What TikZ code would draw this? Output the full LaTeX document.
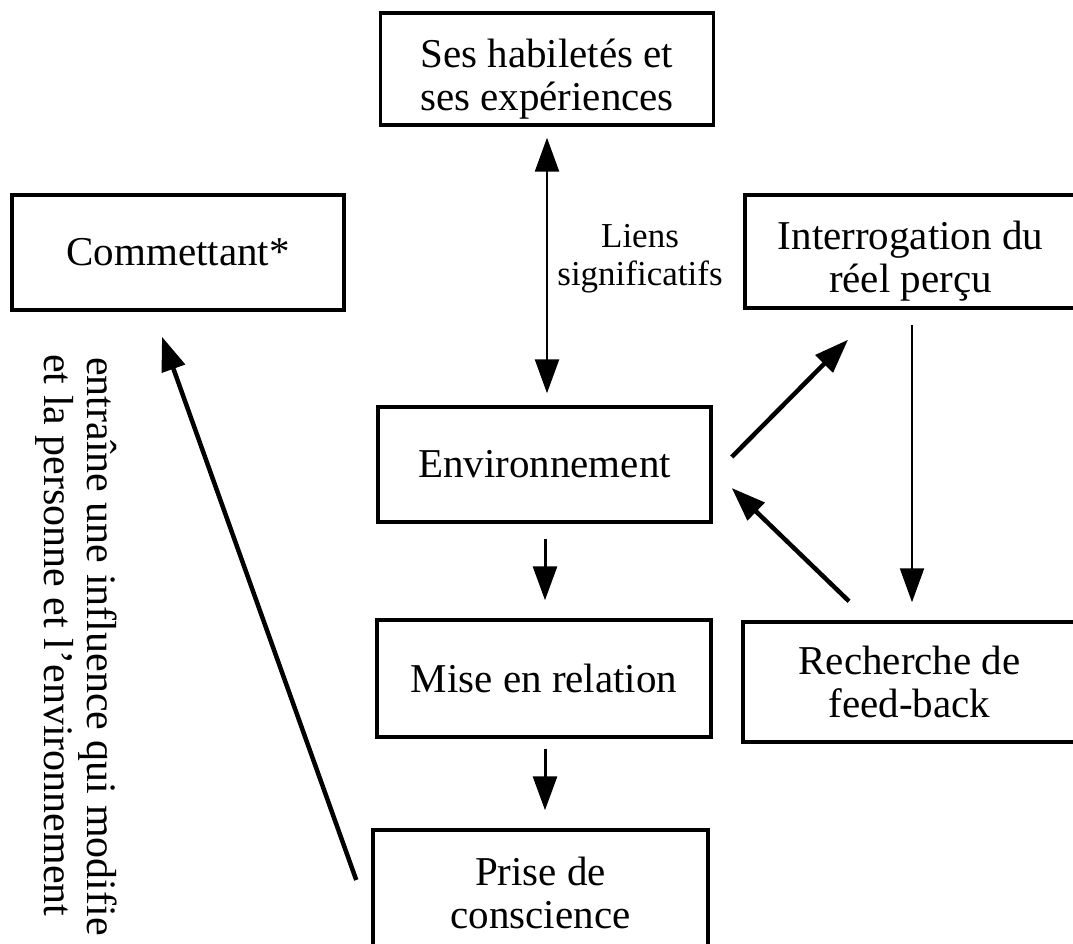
\documentclass[tikz,border=0pt]{standalone}
\usepackage{fontspec}
\setmainfont{Liberation Serif}
\usetikzlibrary{arrows.meta,calc}
\newcommand{\upstrut}{\rule{0pt}{48pt}}
\begin{document}
\begin{tikzpicture}[x=1pt,y=-1pt,
 box/.style={draw=black, line width=3.5pt, minimum width=333pt, inner sep=0pt, align=center, font=\fontsize{41}{43}\selectfont},
 tip/.tip={Triangle[length=34pt,width=24pt]},
 arr/.style={line width=3pt, -tip},
 heavyarr/.style={line width=4.5pt, -tip},
 thinarr/.style={line width=2.2pt, -tip},
 dblarr/.style={line width=2.5pt, tip-tip},
 lbl/.style={align=center, inner sep=0pt, font=\fontsize{35}{38}\selectfont},
 rot/.style={rotate=-90, anchor=west, inner sep=0pt, font=\fontsize{42}{44}\selectfont}]
\useasboundingbox (0,0) rectangle (1073,944);
\fill[white] (0,0) rectangle (1073,944);
\clip (0,0) rectangle (1073,944);
% boxes
\node[box, minimum height=112pt] (hab) at (547,69) {\upstrut Ses habiletés et\\ses expériences};
\node[box, minimum height=115pt, minimum width=332pt] (comm) at (178,252.5) {Commettant*};
\node[box, minimum height=113pt, minimum width=331pt] (interr) at (910.5,251.5) {\upstrut Interrogation du\\réel perçu};
\node[box, minimum height=115pt] (env) at (544.5,464.5) {Environnement};
\node[box, minimum height=117pt, minimum width=334pt] (mise) at (544,678.5) {Mise en relation};
\node[box, minimum height=120pt] (rech) at (909.5,682) {Recherche de\\feed-back};
\node[box, minimum height=125pt, minimum width=335pt] (prise) at (540.5,892.5) {Prise de\\conscience};
% labels
\node[lbl] (liens) at (640,259) {Liens\\significatifs};
\node[rot] (r1) at (98,357) {entraîne une influence qui modifie};
\node[rot] (r2) at (55,354) {et la personne et l'environnement};
% connectors
\draw[dblarr] ($(hab.south)+(0,11)$) -- ($(env.north)+(2.5,-12)$);
\draw[arr] ($(env.south)+(0.5,15)$) -- ($(mise.north)+(1,-18)$);
\draw[arr] ($(mise.south)+(1,10)$) -- ($(prise.north)+(4.5,-18)$);
\draw[heavyarr] ($(env.east)+(19,-7.5)$) -- ($(interr.south)+(-62.5,30)$);
\draw[heavyarr] ($(rech.north)+(-60.5,-19)$) -- ($(env.east)+(19,23.5)$);
\draw[thinarr] ($(interr.south)+(1.5,15)$) -- ($(rech.north)+(2.5,-18)$);
\draw[heavyarr] ($(prise.west)+(-15,-12.5)$) -- ($(comm.south)+(-16,25)$);
\end{tikzpicture}
\end{document}
